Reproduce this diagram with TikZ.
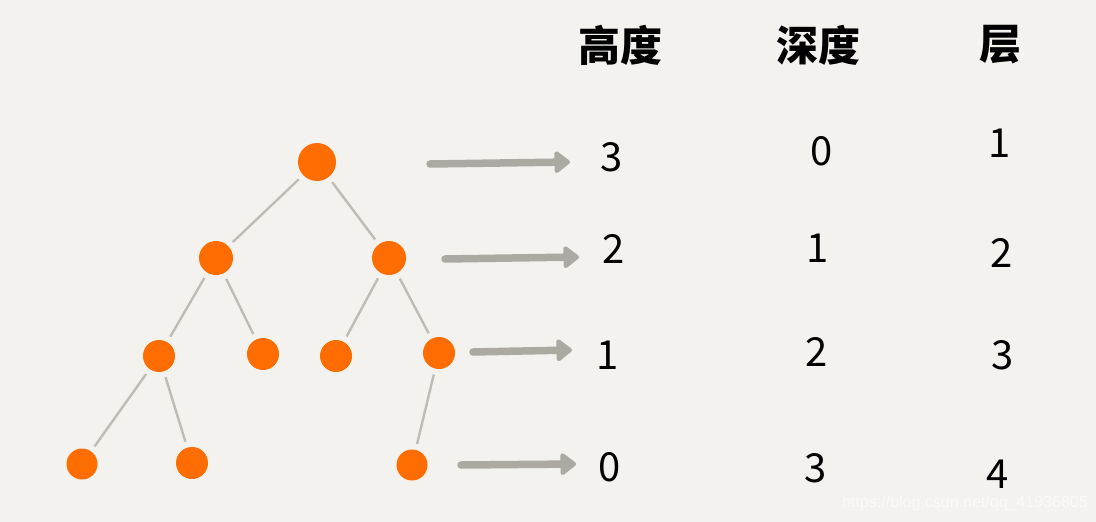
\documentclass[tikz,border=0pt]{standalone}
\usepackage{fontspec}
\newfontfamily\cjk{Noto Sans CJK SC}
\setsansfont{Liberation Sans}
\usetikzlibrary{arrows.meta}
\definecolor{bg}{HTML}{F4F2EE}
\definecolor{dot}{HTML}{FF6D00}
\definecolor{edge}{HTML}{BEBCB5}
\definecolor{arr}{HTML}{ABA9A1}
\definecolor{wm}{HTML}{FBFAF8}
\tikzset{
  tn/.style={circle,fill=dot,inner sep=0pt,minimum size=#1},
  tedge/.style={draw=edge,line width=2.4pt,shorten <=6pt,shorten >=6pt},
  larr/.style={draw=arr,line width=7.5pt,line cap=round,-{Triangle[length=17pt,width=25pt,round]}},
  num/.style={font=\cjk\fontsize{40}{40}\selectfont,text=black,inner sep=0pt},
  head/.style={font=\cjk\bfseries\fontsize{42}{42}\selectfont,text=black,inner sep=0pt}
}
\begin{document}
\begin{tikzpicture}[x=1pt,y=-1pt]
\fill[bg] (0,0) rectangle (1096,522);
\useasboundingbox (0,0) rectangle (1096,522);
% tree nodes
\node[tn=38pt] (r) at (317,162) {};
\node[tn=34pt] (a) at (216,258) {};
\node[tn=34pt] (b) at (389,258) {};
\node[tn=32pt] (c) at (159,356) {};
\node[tn=32pt] (d) at (263,354) {};
\node[tn=32pt] (e) at (336,356) {};
\node[tn=32pt] (f) at (439,353) {};
\node[tn=31pt] (g) at (82,464) {};
\node[tn=32pt] (h) at (192,463) {};
\node[tn=31pt] (i) at (412,465) {};
% edges
\draw[tedge] (r) -- (a);
\draw[tedge] (r) -- (b);
\draw[tedge] (a) -- (c);
\draw[tedge] (a) -- (d);
\draw[tedge] (b) -- (e);
\draw[tedge] (b) -- (f);
\draw[tedge] (c) -- (g);
\draw[tedge] (c) -- (h);
\draw[tedge] (f) -- (i);
% headers
\node[head] (h1) at (620,45) {高度};
\node[head] (h2) at (818,45) {深度};
\node[head] (h3) at (1000,45) {层};
% numbers
\node[num] (n13) at (612,157) {3};
\node[num] (n12) at (614,249) {2};
\node[num] (n11) at (608,355) {1};
\node[num] (n10) at (610,467) {0};
\node[num] (n20) at (822,151) {0};
\node[num] (n21) at (818,248) {1};
\node[num] (n22) at (817,352) {2};
\node[num] (n23) at (816,468) {3};
\node[num] (n31) at (1000,143) {1};
\node[num] (n32) at (1002,253) {2};
\node[num] (n33) at (1003,355) {3};
\node[num] (n34) at (998,474) {4};
% arrows
\coordinate (s1) at (430,164); \coordinate (t1) at (570,162);
\coordinate (s2) at (445,259); \coordinate (t2) at (579,257);
\coordinate (s3) at (473,352); \coordinate (t3) at (572,350);
\coordinate (s4) at (461,465); \coordinate (t4) at (576,464);
\draw[larr] (s1) -- (t1);
\draw[larr] (s2) -- (t2);
\draw[larr] (s3) -- (t3);
\draw[larr] (s4) -- (t4);
% watermark
\node[font=\sffamily\fontsize{16}{16}\selectfont,text=wm,inner sep=0pt] (wmk) at (965,503) {https://blog.csdn.net/qq\_41936805};
\end{tikzpicture}
\end{document}
